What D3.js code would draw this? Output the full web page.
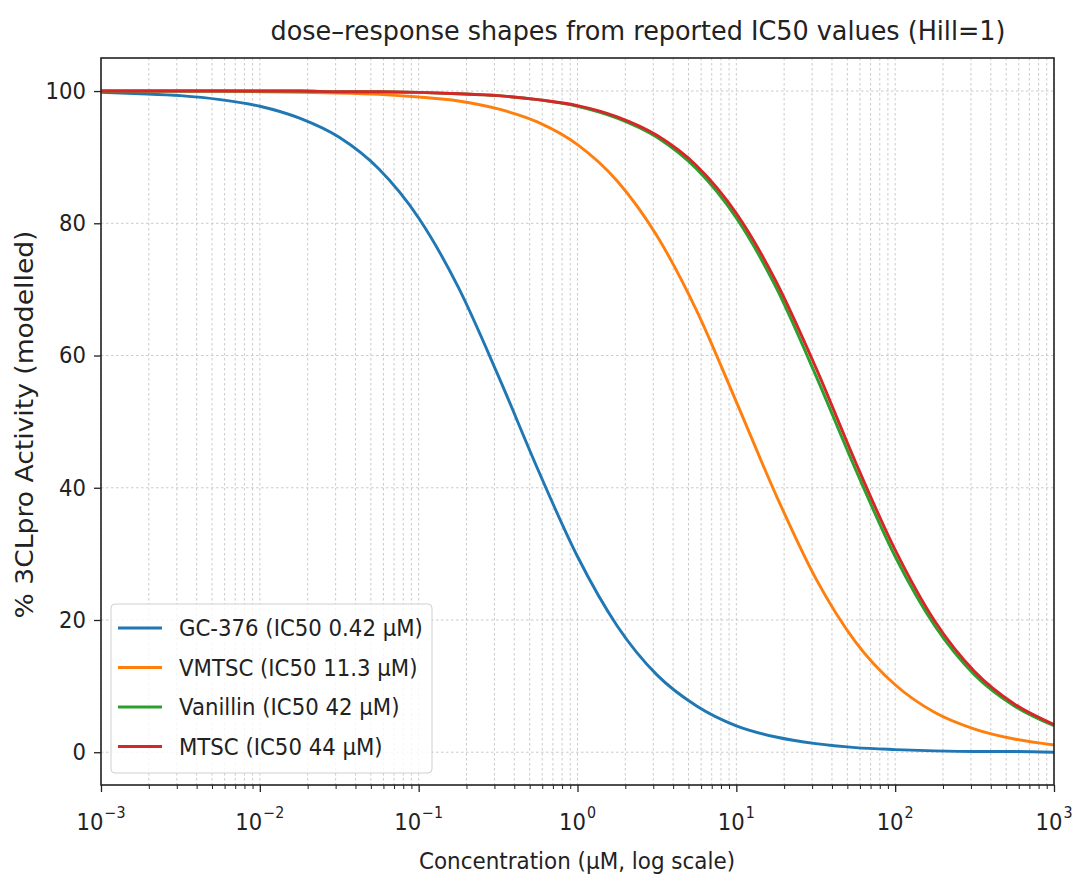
<!DOCTYPE html>
<html>
<head>
<meta charset="utf-8">
<script src="https://cdn.jsdelivr.net/npm/d3@7"></script>
<style>
  html, body { margin: 0; padding: 0; background: #fff; }
  svg { display: block; }
  text { font-family: "DejaVu Sans", sans-serif; fill: #222; }
</style>
</head>
<body>
<svg id="chart" width="1075" height="877"></svg>
<script>
// ---- data ----
const logConc = [-3, -2.75, -2.5, -2.25, -2, -1.75, -1.5, -1.25, -1, -0.75, -0.5, -0.25, 0,
                 0.25, 0.5, 0.75, 1, 1.25, 1.5, 1.75, 2, 2.25, 2.5, 2.75, 3];
const seriesNames = ["GC-376 (IC50 0.42 µM)", "VMTSC (IC50 11.3 µM)", "Vanillin (IC50 42 µM)", "MTSC (IC50 44 µM)"];
const gc376 = [99.8, 99.6, 99.3, 98.7, 97.7, 95.9, 93.0, 88.2, 80.8, 70.3, 57.0, 42.8, 29.6,
               19.1, 11.7, 7.0, 4.0, 2.3, 1.3, 0.7, 0.4, 0.2, 0.1, 0.1, 0.0];
const vmtsc = [100.0, 100.0, 100.0, 100.0, 99.9, 99.8, 99.7, 99.5, 99.1, 98.5, 97.3, 95.3, 91.9,
               86.4, 78.1, 66.8, 53.0, 38.9, 26.3, 16.7, 10.2, 6.0, 3.5, 2.0, 1.1];
const vanillin = [100.0, 100.0, 100.0, 100.0, 100.0, 100.0, 99.9, 99.9, 99.8, 99.6, 99.3, 98.7, 97.7,
                  95.9, 93.0, 88.2, 80.8, 70.3, 57.0, 42.8, 29.6, 19.1, 11.7, 7.0, 4.0];
const mtsc = [100.0, 100.0, 100.0, 100.0, 100.0, 100.0, 99.9, 99.9, 99.8, 99.6, 99.3, 98.7, 97.8,
              96.1, 93.3, 88.7, 81.5, 71.2, 58.2, 43.9, 30.6, 19.8, 12.2, 7.3, 4.2];
const seriesColors = ["#1f77b4", "#ff7f0e", "#2ca02c", "#d62728"];
const yTicks = [0, 20, 40, 60, 80, 100];
const xMajorExp = [-3, -2, -1, 0, 1, 2, 3];
const titleText = "dose–response shapes from reported IC50 values (Hill=1)";
const xLabel = "Concentration (µM, log scale)";
const yLabel = "% 3CLpro Activity (modelled)";

const allSeries = [gc376, vmtsc, vanillin, mtsc];

// ---- layout ----
const svg = d3.select("#chart");
svg.append("rect").attr("width", 1075).attr("height", 877).attr("fill", "#fff");
const g = svg.append("g");

const L = 101, R = 1054, T = 58, B = 785;
const x = d3.scaleLog().domain([1e-3, 1e3]).range([L, R]);
const y = d3.scaleLinear().domain([-4.956, 104.998]).range([B, T]);

const xMajor = xMajorExp.map(e => Math.pow(10, e));
const xMinor = [];
for (let e = -3; e < 3; e++) for (let m = 2; m <= 9; m++) xMinor.push(m * Math.pow(10, e));

// squeeze text horizontally by factor k
function squeeze(sel, k) {
  sel.each(function () {
    const w = this.getComputedTextLength();
    d3.select(this).attr("textLength", w * k).attr("lengthAdjust", "spacingAndGlyphs");
  });
}
function fitTo(sel, w) {
  sel.attr("textLength", w).attr("lengthAdjust", "spacingAndGlyphs");
}

// ---- grid ----
const grid = g.append("g");
grid.selectAll("line.vx").data(xMajor.concat(xMinor)).enter().append("line")
  .attr("x1", d => x(d)).attr("x2", d => x(d)).attr("y1", T).attr("y2", B)
  .attr("stroke", "#c4c4c4").attr("stroke-width", 0.9).attr("stroke-dasharray", "2.5,2.5");
grid.selectAll("line.hy").data(yTicks).enter().append("line")
  .attr("x1", L).attr("x2", R).attr("y1", d => y(d)).attr("y2", d => y(d))
  .attr("stroke", "#c4c4c4").attr("stroke-width", 0.9).attr("stroke-dasharray", "2.5,2.5");

// ---- lines ----
const line = d3.line()
  .x((d, i) => x(Math.pow(10, logConc[i])))
  .y(d => y(d))
  .curve(d3.curveMonotoneX);
g.append("g").selectAll("path").data(allSeries).enter().append("path")
  .attr("d", d => line(d))
  .attr("fill", "none")
  .attr("stroke", (d, i) => seriesColors[i])
  .attr("stroke-width", 2.9);

// ---- axes ----
const yAxis = g.append("g").attr("transform", `translate(${L},0)`)
  .call(d3.axisLeft(y).tickValues(yTicks).tickSize(7).tickPadding(8).tickFormat(d3.format("d")));
yAxis.select(".domain").remove();
yAxis.selectAll(".tick line").attr("stroke", "#222").attr("stroke-width", 1.3);
const ytText = yAxis.selectAll(".tick text").attr("font-size", 23).attr("fill", "#222")
  .attr("font-family", "DejaVu Sans, sans-serif");
squeeze(ytText, 0.92);

const xAxis = g.append("g").attr("transform", `translate(0,${B})`)
  .call(d3.axisBottom(x).tickValues(xMajor).tickSize(7).tickFormat(""));
xAxis.select(".domain").remove();
xAxis.selectAll(".tick line").attr("stroke", "#222").attr("stroke-width", 1.3);
const xAxisMinor = g.append("g").attr("transform", `translate(0,${B})`)
  .call(d3.axisBottom(x).tickValues(xMinor).tickSize(4).tickFormat(""));
xAxisMinor.select(".domain").remove();
xAxisMinor.selectAll(".tick line").attr("stroke", "#222").attr("stroke-width", 1.0);

// x tick labels: base "10" and a separate superscript exponent
const xl = g.append("g").selectAll("g").data(xMajorExp).enter().append("g");
xl.each(function (d) {
  const grp = d3.select(this);
  const cx = x(Math.pow(10, d));
  const base = grp.append("text").attr("y", 830).attr("font-size", 23).text("10");
  const wb = base.node().getComputedTextLength() * 0.92;
  base.attr("textLength", wb).attr("lengthAdjust", "spacingAndGlyphs");
  const sup = grp.append("text").attr("y", 818).attr("font-size", 15.5)
    .text(d < 0 ? "\u2212" + Math.abs(d) : String(d));
  const ws = sup.node().getComputedTextLength() * 0.92;
  sup.attr("textLength", ws).attr("lengthAdjust", "spacingAndGlyphs");
  const x0 = cx - (wb + ws + 1) / 2;
  base.attr("x", x0);
  sup.attr("x", x0 + wb + 1);
});

// spines
g.append("rect").attr("x", L).attr("y", T).attr("width", R - L).attr("height", B - T)
  .attr("fill", "none").attr("stroke", "#222").attr("stroke-width", 1.6);

// ---- labels ----
const tt = g.append("text").attr("x", 638).attr("y", 40).attr("text-anchor", "middle")
  .attr("font-size", 26).text(titleText);
fitTo(tt, 735);
const xlab = g.append("text").attr("x", 577).attr("y", 869).attr("text-anchor", "middle")
  .attr("font-size", 23).text(xLabel);
fitTo(xlab, 316);
const ylab = g.append("text").attr("transform", `translate(33,${(T + B) / 2 + 3}) rotate(-90)`)
  .attr("text-anchor", "middle").attr("font-size", 24).text(yLabel);
fitTo(ylab, 388);

// ---- legend ----
const leg = g.append("g");
leg.append("rect").attr("x", 111).attr("y", 604).attr("width", 321).attr("height", 169)
  .attr("rx", 4).attr("fill", "#fff").attr("fill-opacity", 0.8)
  .attr("stroke", "#d0d0d0").attr("stroke-width", 1);
const items = leg.selectAll("g.item").data(seriesNames).enter().append("g")
  .attr("transform", (d, i) => `translate(0,${628 + i * 39.5})`);
items.append("line").attr("x1", 118).attr("x2", 162).attr("y1", 0).attr("y2", 0)
  .attr("stroke", (d, i) => seriesColors[i]).attr("stroke-width", 2.9);
const legText = items.append("text").attr("x", 179).attr("y", 8).attr("font-size", 22.5).text(d => d);
squeeze(legText, 0.945);
</script>
</body>
</html>
